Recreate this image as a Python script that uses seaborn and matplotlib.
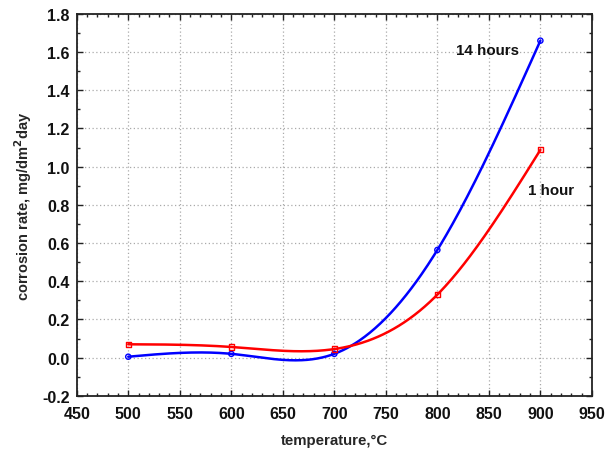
import numpy as np
import pandas as pd
import matplotlib
matplotlib.use("Agg")
import matplotlib.pyplot as plt
import seaborn as sns
from matplotlib.ticker import MultipleLocator

temperature = [500, 600, 700, 800, 900]
rate_14h = [0.005, 0.02, 0.02, 0.564, 1.66]
rate_1h = [0.07, 0.056, 0.045, 0.33, 1.088]
labels = ["14 hours", "1 hour"]


def natural_spline(x, y, xs):
    x = np.asarray(x, float); y = np.asarray(y, float)
    n = len(x); h = np.diff(x)
    A = np.zeros((n, n)); r = np.zeros(n)
    A[0, 0] = 1; A[-1, -1] = 1
    for i in range(1, n - 1):
        A[i, i - 1] = h[i - 1]; A[i, i] = 2 * (h[i - 1] + h[i]); A[i, i + 1] = h[i]
        r[i] = 3 * ((y[i + 1] - y[i]) / h[i] - (y[i] - y[i - 1]) / h[i - 1])
    c = np.linalg.solve(A, r)
    b = (y[1:] - y[:-1]) / h - h * (2 * c[:-1] + c[1:]) / 3
    d = (c[1:] - c[:-1]) / (3 * h)
    idx = np.clip(np.searchsorted(x, xs) - 1, 0, n - 2)
    dx = xs - x[idx]
    return y[idx] + b[idx] * dx + c[idx] * dx ** 2 + d[idx] * dx ** 3


sns.set_style("ticks")
plt.rcParams['font.family'] = ['Liberation Sans', 'DejaVu Sans']
plt.rcParams['font.weight'] = 'bold'

fig = plt.figure(figsize=(6.14, 4.52), dpi=100)
ax = fig.add_axes([0.125, 0.122, 0.839, 0.845])

xs = np.linspace(500, 900, 400)
for ys, col, mk in [(rate_14h, "#0000ff", "o"), (rate_1h, "#ff0000", "s")]:
    sm = pd.DataFrame({"t": xs, "v": natural_spline(temperature, ys, xs)})
    sns.lineplot(data=sm, x="t", y="v", color=col, linewidth=1.8, ax=ax)
    pts = pd.DataFrame({"t": temperature, "v": ys})
    sns.scatterplot(data=pts, x="t", y="v", marker=mk, s=14, facecolor="none",
                    edgecolor=col, linewidth=1.0, ax=ax, zorder=5)

ax.set_xlim(450, 950)
ax.set_ylim(-0.2, 1.8)
ax.xaxis.set_major_locator(MultipleLocator(50))
ax.xaxis.set_minor_locator(MultipleLocator(10))
ax.yaxis.set_major_locator(MultipleLocator(0.2))
ax.yaxis.set_minor_locator(MultipleLocator(0.1))
ax.yaxis.set_major_formatter(matplotlib.ticker.FormatStrFormatter('%.1f'))
ax.tick_params(which='both', direction='in', top=True, right=True, colors='#222222',
               labelcolor='#111111', labelsize=11.5)
ax.tick_params(axis='x', which='major', pad=7)
ax.tick_params(axis='y', which='major', pad=5)
ax.tick_params(which='major', length=4, width=1)
ax.tick_params(which='minor', length=2, width=1)
for lab in ax.get_xticklabels() + ax.get_yticklabels():
    lab.set_fontweight('bold')
ax.grid(True, which='major', linestyle=(0, (1, 2)), color='#aaaaaa', linewidth=0.9)
for sp in ax.spines.values():
    sp.set_linewidth(1.3)
    sp.set_color('#222222')

ax.set_xlabel("temperature,°C", fontsize=10.8, fontweight='bold', labelpad=9)
ax.set_ylabel("corrosion rate, mg/dm$^\\mathbf{2}$day", fontsize=10.5, fontweight='bold', labelpad=6)

ax.text(849, 1.61, labels[0], fontsize=10.9, fontweight='bold', ha='center', va='center', color='#111111')
ax.text(910, 0.88, labels[1], fontsize=10.9, fontweight='bold', ha='center', va='center', color='#111111')

fig.savefig("out.png", dpi=100)
